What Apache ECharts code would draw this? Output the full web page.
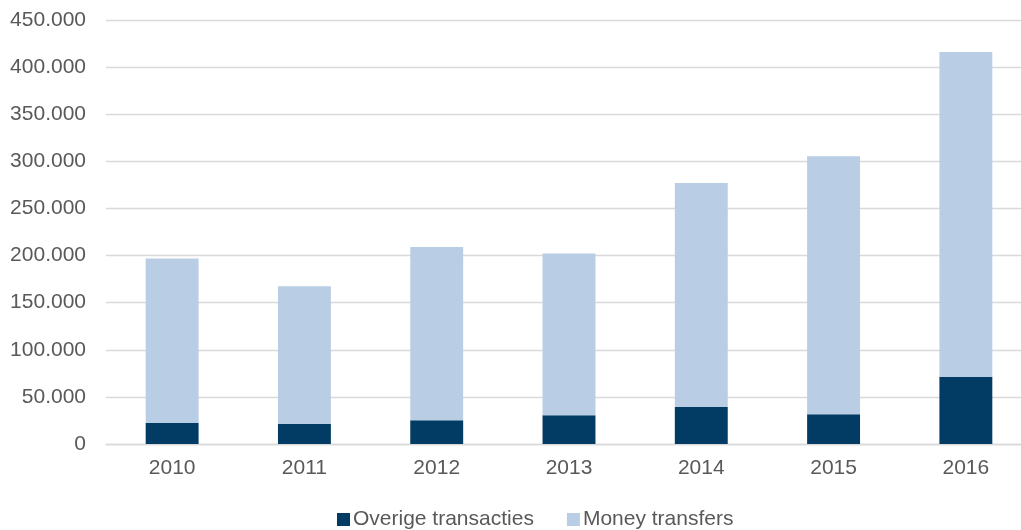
<!DOCTYPE html>
<html>
<head>
<meta charset="utf-8">
<script src="https://cdn.jsdelivr.net/npm/echarts@6/dist/echarts.min.js"></script>
<style>
  html, body { margin: 0; padding: 0; background: #fff; overflow: hidden; }
  /* plot loopt iets voorbij de rechterrand, net als in het origineel */
  #chart { width: 1034px; height: 530px; }
</style>
</head>
<body>
<div id="chart"></div>
<script>
// jaren op de x-as
const years = ['2010', '2011', '2012', '2013', '2014', '2015', '2016']
// overige transacties (onderste deel van de stapel)
const overige = [22300, 21200, 25200, 30500, 39300, 31500, 71500]
// money transfers (bovenste deel van de stapel)
const moneyTransfers = [174500, 146200, 183900, 171600, 237700, 273800, 344500]

// getallen met punt als duizendtalscheiding
function formatNumber (v) {
  return String(Math.round(v)).replace(/\B(?=(\d{3})+(?!\d))/g, '.')
}

const chartInstance = echarts.init(document.getElementById('chart'))
const option = {
  textStyle: { fontFamily: 'Liberation Sans, Arial, sans-serif' },
  animation: false,
  grid: {
    left: 106,
    top: 20,
    width: 926,
    height: 424
  },
  legend: {
    left: 332,
    top: 504,
    itemWidth: 13,
    itemHeight: 13,
    itemGap: 33,
    icon: 'rect',
    textStyle: { color: '#595959', fontSize: 21, padding: [0, 0, 0, -2] },
    data: ['Overige transacties', 'Money transfers']
  },
  xAxis: {
    type: 'category',
    data: years,
    axisLine: { lineStyle: { color: '#d9d9d9', width: 1.3 } },
    axisTick: { show: false },
    axisLabel: { color: '#595959', fontSize: 21, margin: 14 }
  },
  yAxis: {
    type: 'value',
    min: 0,
    max: 450000,
    interval: 50000,
    axisLine: { show: false },
    axisTick: { show: false },
    axisLabel: {
      color: '#595959',
      fontSize: 21,
      margin: 20,
      formatter: formatNumber
    },
    splitLine: { lineStyle: { color: '#d9d9d9', width: 1.3 } }
  },
  series: [
    {
      name: 'Overige transacties',
      type: 'bar',
      stack: 'totaal',
      barWidth: '40%',
      data: overige,
      itemStyle: { color: '#023c64' }
    },
    {
      name: 'Money transfers',
      type: 'bar',
      stack: 'totaal',
      data: moneyTransfers,
      itemStyle: { color: '#b9cde4' }
    }
  ]
}
chartInstance.setOption(option)
</script>
</body>
</html>
